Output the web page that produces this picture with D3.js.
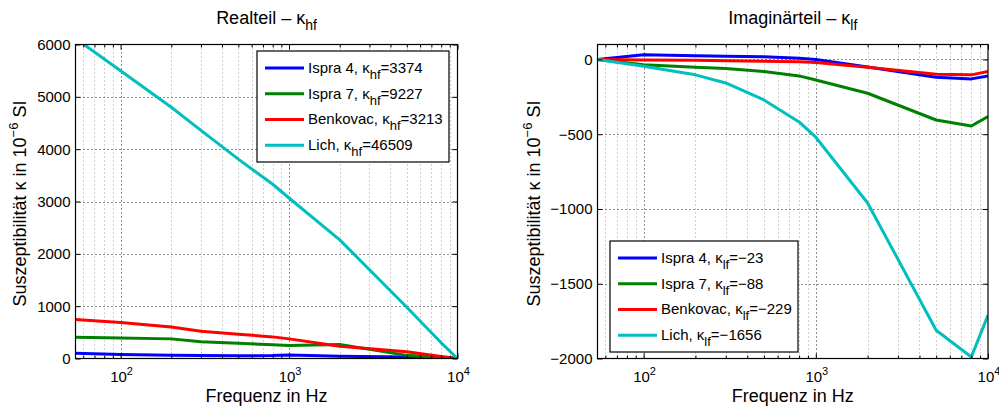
<!DOCTYPE html>
<html><head><meta charset="utf-8">
<script src="https://cdn.jsdelivr.net/npm/d3@7"></script>
<style>
html,body{margin:0;padding:0;background:#fff;}
svg{display:block;font-family:"Liberation Sans",Arial,Helvetica,sans-serif;}
</style></head>
<body>
<svg id="chart" width="999" height="408"></svg>
<script>
// ---- data ----
const freqs = [54, 100, 200, 300, 500, 800, 1000, 2000, 5000, 8000, 10000];
const seriesNames = ["Ispra 4", "Ispra 7", "Benkovac", "Lich"];
const seriesColors = ["#0000ff", "#008000", "#ff0000", "#00bfbf"];
// Realteil
const ispra4Re = [100, 76, 62, 57, 52, 55, 65, 45, 30, 12, 0];
const ispra7Re = [405, 390, 375, 318, 290, 265, 250, 267, 60, 20, 0];
const benkovacRe = [743, 686, 600, 520, 465, 413, 375, 235, 130, 40, 0];
const lichRe = [6115, 5500, 4800, 4360, 3810, 3330, 3067, 2267, 980, 300, 0];
// Imaginärteil
const ispra4Im = [0, 31, 25, 22, 18, 8, 0, -50, -119, -130, -110];
const ispra7Im = [0, -36, -52, -60, -81, -110, -137, -226, -405, -445, -382];
const benkovacIm = [0, -3, -5, -8, -12, -15, -20, -52, -99, -103, -81];
const lichIm = [0, -46, -103, -157, -271, -418, -520, -960, -1811, -1990, -1710];
const kappaHf = ["3374", "9227", "3213", "46509"];
const kappaLf = ["\u221223", "\u221288", "\u2212229", "\u22121656"];
const realTicks = [0, 1000, 2000, 3000, 4000, 5000, 6000];
const imagTicks = [-2000, -1500, -1000, -500, 0];
const xMajorTicks = [100, 1000, 10000];
const xTickExp = ["2", "3", "4"];

const svg = d3.select("#chart");
const FS = 15;
const LFS = 18;

function panel(cfg) {
  const {x0, x1, y0, y1, yDomain, yTicks, series, title, sub, legendLabels, legendSub, legendPos, ylabelX, id} = cfg;
  const x = d3.scaleLog().domain([freqs[0], 10000]).range([x0, x1]);
  const y = d3.scaleLinear().domain(yDomain).range([y1, y0]);
  const g = svg.append("g");

  const minors = [];
  for (let dec = 10; dec < 10000; dec *= 10) {
    for (let m = 2; m <= 9; m++) {
      const v = m * dec;
      if (v > freqs[0] && v < 10000) minors.push(v);
    }
  }
  // grid
  g.selectAll(".gmin").data(minors).enter().append("line")
    .attr("x1", d => Math.round(x(d)) + 0.5).attr("x2", d => Math.round(x(d)) + 0.5)
    .attr("y1", y0).attr("y2", y1)
    .attr("stroke", "#a0a0a0").attr("stroke-width", 1).attr("stroke-dasharray", "1,3");
  g.selectAll(".gmaj").data(xMajorTicks.filter(d => d < 10000)).enter().append("line")
    .attr("x1", d => Math.round(x(d)) + 0.5).attr("x2", d => Math.round(x(d)) + 0.5)
    .attr("y1", y0).attr("y2", y1)
    .attr("stroke", "#222").attr("stroke-width", 1).attr("stroke-dasharray", "1,3");
  g.selectAll(".gy").data(yTicks.filter(d => d > yDomain[0] && d < yDomain[1])).enter().append("line")
    .attr("x1", x0).attr("x2", x1)
    .attr("y1", d => Math.round(y(d)) + 0.5).attr("y2", d => Math.round(y(d)) + 0.5)
    .attr("stroke", "#222").attr("stroke-width", 1).attr("stroke-dasharray", "1,3");

  g.append("clipPath").attr("id", "clip" + id).append("rect")
    .attr("x", x0).attr("y", y0).attr("width", x1 - x0).attr("height", y1 - y0);

  const line = d3.line().x((d, i) => x(freqs[i])).y(d => y(d));
  g.append("g").attr("clip-path", `url(#clip${id})`)
    .selectAll("path").data(series).enter().append("path")
    .attr("d", d => line(d)).attr("fill", "none")
    .attr("stroke", (d, i) => seriesColors[i]).attr("stroke-width", 3)
    .attr("stroke-linejoin", "round");

  const ax = d3.axisBottom(x).tickValues(xMajorTicks).tickSize(-5).tickFormat("");
  const axT = d3.axisTop(x).tickValues(xMajorTicks).tickSize(-5).tickFormat("");
  const axMin = d3.axisBottom(x).tickValues(minors).tickSize(-3).tickFormat("");
  const axMinT = d3.axisTop(x).tickValues(minors).tickSize(-3).tickFormat("");
  const ayL = d3.axisLeft(y).tickValues(yTicks).tickSize(-5).tickFormat("");
  const ayR = d3.axisRight(y).tickValues(yTicks).tickSize(-5).tickFormat("");
  const style = s => s.call(a => a.selectAll("path").remove()).call(a => a.selectAll("line").attr("stroke", "#000"));
  g.append("g").attr("transform", `translate(0,${y1})`).call(ax).call(style);
  g.append("g").attr("transform", `translate(0,${y0})`).call(axT).call(style);
  g.append("g").attr("transform", `translate(0,${y1})`).call(axMin).call(style);
  g.append("g").attr("transform", `translate(0,${y0})`).call(axMinT).call(style);
  g.append("g").attr("transform", `translate(${x0},0)`).call(ayL).call(style);
  g.append("g").attr("transform", `translate(${x1},0)`).call(ayR).call(style);
  g.append("rect").attr("x", x0).attr("y", y0).attr("width", x1 - x0).attr("height", y1 - y0)
    .attr("fill", "none").attr("stroke", "#000").attr("stroke-width", 1.2);

  xMajorTicks.forEach((v, i) => {
    const t = g.append("text").attr("x", x(v) + 1).attr("y", y1 + 23)
      .attr("text-anchor", "middle").attr("font-size", FS);
    t.append("tspan").text("10");
    t.append("tspan").attr("dy", -7).attr("font-size", 11).text(xTickExp[i]);
  });
  yTicks.forEach(v => {
    g.append("text").attr("x", x0 - 5).attr("y", y(v)).attr("dy", "0.36em")
      .attr("text-anchor", "end").attr("font-size", FS)
      .text(v < 0 ? "\u2212" + Math.abs(v) : String(v));
  });

  g.append("text").attr("x", (x0 + x1) / 2).attr("y", y1 + 43).attr("text-anchor", "middle")
    .attr("font-size", LFS).text("Frequenz in Hz");
  const yl = g.append("text").attr("transform", `translate(${ylabelX},${(y0 + y1) / 2 + 2}) rotate(-90)`)
    .attr("text-anchor", "middle").attr("font-size", LFS);
  yl.append("tspan").text("Suszeptibilit\u00e4t \u03ba in 10");
  yl.append("tspan").attr("dy", -8).attr("font-size", 13).text("\u22126");
  yl.append("tspan").attr("dy", 8).text(" SI");

  const tt = g.append("text").attr("x", (x0 + x1) / 2).attr("y", 24).attr("text-anchor", "middle").attr("font-size", LFS);
  tt.append("tspan").text(title + " \u2013 \u03ba");
  tt.append("tspan").attr("dy", 6).attr("font-size", 14).text(sub);

  const [lx, ly, lw, lh] = legendPos;
  const lg = g.append("g");
  lg.append("rect").attr("x", lx).attr("y", ly).attr("width", lw).attr("height", lh)
    .attr("fill", "#fff").attr("stroke", "#000").attr("stroke-width", 1.2);
  const rowH = (lh - 8) / 4;
  seriesNames.forEach((n, i) => {
    const cy = ly + 4 + rowH * (i + 0.5);
    lg.append("line").attr("x1", lx + 8).attr("x2", lx + 47).attr("y1", cy).attr("y2", cy)
      .attr("stroke", seriesColors[i]).attr("stroke-width", 3);
    const t = lg.append("text").attr("x", lx + 51).attr("y", cy + 5).attr("font-size", FS);
    t.append("tspan").text(n + ", \u03ba");
    t.append("tspan").attr("dy", 6).attr("font-size", 13).text(legendSub);
    t.append("tspan").attr("dy", -6).text("=" + legendLabels[i]);
  });
}

panel({
  id: "L", x0: 75.5, x1: 457.5, y0: 44.5, y1: 358.5, yDomain: [0, 6000], yTicks: realTicks,
  series: [ispra4Re, ispra7Re, benkovacRe, lichRe], title: "Realteil", sub: "hf",
  legendLabels: kappaHf, legendSub: "hf", legendPos: [257, 51, 192, 111], ylabelX: 26
});
panel({
  id: "R", x0: 597.5, x1: 988, y0: 44.5, y1: 358.5, yDomain: [-2000, 100], yTicks: imagTicks,
  series: [ispra4Im, ispra7Im, benkovacIm, lichIm], title: "Imagin\u00e4rteil", sub: "lf",
  legendLabels: kappaLf, legendSub: "lf", legendPos: [610, 241, 188, 111], ylabelX: 540
});
</script>
</body></html>
